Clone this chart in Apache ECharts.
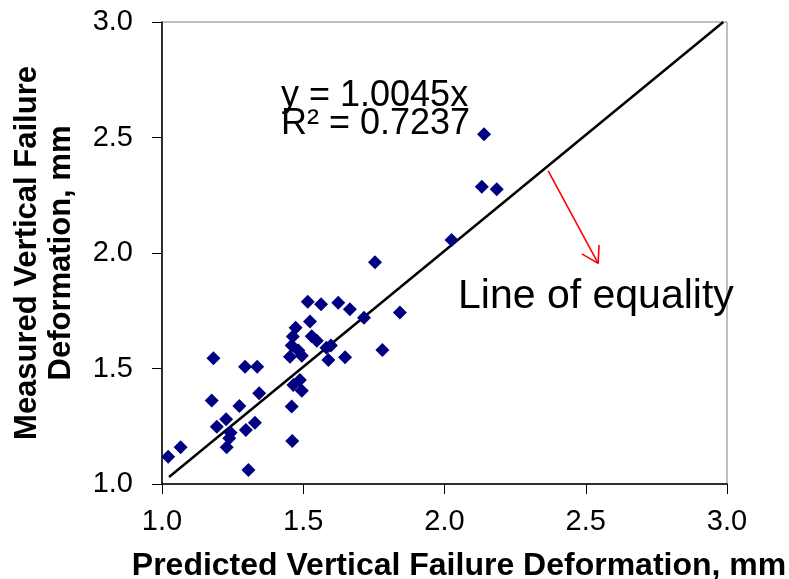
<!DOCTYPE html>
<html>
<head>
<meta charset="utf-8">
<script src="https://cdn.jsdelivr.net/npm/echarts@6/dist/echarts.min.js"></script>
<style>
  html, body { margin: 0; padding: 0; background: #fff; }
  #chart { width: 789px; height: 579px; }
</style>
</head>
<body>
<div id="chart"></div>
<script>
// predicted (x) vs measured (y) failure deformation, mm
const predicted = [
  1.022, 1.066, 1.182, 1.176, 1.194, 1.227, 1.243, 1.238, 1.229, 1.274,
  1.294, 1.337, 1.344, 1.297, 1.329, 1.306, 1.461, 1.459, 1.465, 1.488,
  1.495, 1.453, 1.495, 1.483, 1.459, 1.463, 1.473, 1.524, 1.530, 1.548,
  1.516, 1.563, 1.624, 1.665, 1.715, 1.842, 1.754, 1.598, 1.582, 1.589,
  1.648, 1.780, 2.025, 2.132, 2.185, 2.140
]
const measured = [
  1.118, 1.159, 1.544, 1.361, 1.248, 1.280, 1.222, 1.198, 1.159, 1.338,
  1.508, 1.508, 1.393, 1.234, 1.265, 1.061, 1.186, 1.335, 1.429, 1.450,
  1.404, 1.551, 1.555, 1.578, 1.600, 1.638, 1.676, 1.703, 1.640, 1.620,
  1.789, 1.778, 1.785, 1.756, 1.720, 1.742, 1.960, 1.600, 1.590, 1.537,
  1.549, 1.580, 2.056, 2.287, 2.276, 2.514
]

// line of equality (fitted y = 1.0045x) end points
const equalityLine = [[1.025, 1.03], [2.987, 3.0]]

// red pointer arrow: shaft and open head
const arrowShaft = [[2.367, 2.356], [2.544, 1.955]]
const arrowHead = [[2.486, 1.996], [2.544, 1.955], [2.547, 2.035]]

const axisTicks = [1.0, 1.5, 2.0, 2.5, 3.0]

const points = predicted.map((x, i) => [x, measured[i]])

const chart = echarts.init(document.getElementById('chart'))

const axisCommon = {
  type: 'value',
  min: axisTicks[0],
  max: axisTicks[axisTicks.length - 1],
  interval: 0.5,
  axisLine: { show: true, lineStyle: { color: '#000', width: 1.5 } },
  axisTick: { show: true, inside: false, length: 10, lineStyle: { color: '#000', width: 1 } },
  splitLine: { show: false },
  axisLabel: {
    color: '#000',
    fontFamily: 'Liberation Sans, Arial, sans-serif',
    fontSize: 29,
    formatter: (v) => v.toFixed(1)
  },
  nameLocation: 'middle',
  nameTextStyle: {
    color: '#000',
    fontFamily: 'Liberation Sans, Arial, sans-serif',
    fontWeight: 'bold',
    fontSize: 31
  }
}

const option = {
  backgroundColor: '#fff',
  animation: false,
  grid: {
    left: 162,
    right: 62,
    top: 22,
    bottom: 95,
    outerBoundsMode: 'none',
    containLabel: false,
    show: true,
    borderColor: '#808080',
    borderWidth: 1
  },
  xAxis: {
    ...axisCommon,
    name: 'Predicted Vertical Failure Deformation, mm',
    nameGap: 66,
    nameTextStyle: { ...axisCommon.nameTextStyle, fontSize: 32, padding: [0, 0, 0, 29] },
    axisLabel: { ...axisCommon.axisLabel, margin: 23 }
  },
  yAxis: {
    ...axisCommon,
    name: 'Measured Vertical Failure\nDeformation, mm',
    nameGap: 84,
    nameRotate: 90,
    nameTextStyle: { ...axisCommon.nameTextStyle, lineHeight: 34 },
    axisLabel: { ...axisCommon.axisLabel, margin: 29 }
  },
  series: [
    {
      type: 'line',
      data: equalityLine,
      symbol: 'none',
      lineStyle: { color: '#000', width: 2.5 },
      z: 3
    },
    {
      type: 'scatter',
      data: points,
      symbol: 'diamond',
      symbolSize: 14,
      itemStyle: { color: '#000080', opacity: 1 },
      z: 4
    },
    {
      type: 'line',
      data: arrowShaft,
      symbol: 'none',
      lineStyle: { color: '#ff0000', width: 1.6 },
      z: 5
    },
    {
      type: 'line',
      data: arrowHead,
      symbol: 'none',
      lineStyle: { color: '#ff0000', width: 1.6 },
      z: 5
    }
  ],
  graphic: [
    {
      type: 'text',
      left: 281,
      top: 78,
      style: {
        text: 'y = 1.0045x',
        fill: '#000',
        font: '36px "Liberation Sans", Arial, sans-serif'
      }
    },
    {
      type: 'text',
      left: 281,
      top: 106,
      style: {
        text: 'R² = 0.7237',
        fill: '#000',
        font: '36px "Liberation Sans", Arial, sans-serif'
      }
    },
    {
      type: 'text',
      left: 458,
      top: 276,
      style: {
        text: 'Line of equality',
        fill: '#000',
        font: '41px "Liberation Sans", Arial, sans-serif'
      }
    }
  ]
}

chart.setOption(option)
</script>
</body>
</html>
